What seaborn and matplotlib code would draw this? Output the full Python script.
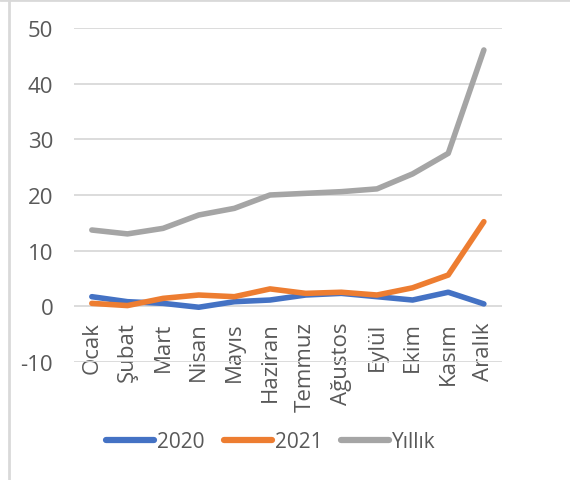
import matplotlib
matplotlib.use("Agg")
import matplotlib.pyplot as plt
import seaborn as sns
import pandas as pd
from matplotlib.lines import Line2D

months = ["Ocak", "Şubat", "Mart", "Nisan", "Mayıs", "Haziran",
          "Temmuz", "Ağustos", "Eylül", "Ekim", "Kasım", "Aralık"]
y2020 = [1.7, 0.8, 0.5, -0.2, 0.8, 1.1, 2.0, 2.3, 1.7, 1.1, 2.5, 0.4]
y2021 = [0.5, 0.1, 1.4, 2.0, 1.7, 3.1, 2.3, 2.5, 2.0, 3.3, 5.6, 15.2]
yillik = [13.7, 13.0, 14.0, 16.4, 17.6, 20.0, 20.3, 20.6, 21.1, 23.8, 27.5, 46.1]
series = ["2020", "2021", "Yıllık"]
colors = ["#4472C4", "#ED7D31", "#A5A5A5"]

df = pd.DataFrame({"Ay": months, "2020": y2020, "2021": y2021, "Yıllık": yillik})
long = df.melt(id_vars="Ay", var_name="Seri", value_name="Değer")

sns.set_style("white")
plt.rcParams['font.family'] = ['Open Sans', 'DejaVu Sans']
plt.rcParams['axes.unicode_minus'] = False

fig = plt.figure(figsize=(5.7, 4.81), dpi=100)
ax = fig.add_axes([74 / 570, 1 - 362.7 / 481, (501.7 - 74) / 570, (362.7 - 29.3) / 481])

sns.lineplot(data=long, x="Ay", y="Değer", hue="Seri", hue_order=series,
             palette=colors, linewidth=4, sort=False, legend=False, ax=ax,
             solid_capstyle="round")

ax.set_xlim(-0.5, 11.5)
ax.set_ylim(-10, 50)
ax.set_yticks(range(-10, 51, 10))
ax.grid(axis="y", color="#D9D9D9", linewidth=1.3)
ax.set_axisbelow(True)
for s in ["left", "right", "top"]:
    ax.spines[s].set_visible(False)
ax.spines["bottom"].set_position(("data", 0))
ax.spines["bottom"].set_visible(False)
ax.set_xlabel("")
ax.set_ylabel("")
ax.set_xticks(range(len(months)))
ax.set_xticklabels(months, rotation=90, ha="center", va="top")
ax.tick_params(axis="both", length=0, labelsize=16, labelcolor="#595959")
ax.tick_params(axis="x", pad=11)
ax.tick_params(axis="y", pad=15)

handles = [Line2D([0], [0], color=c, linewidth=4.5, solid_capstyle="round") for c in colors]
fig.legend(handles, series, loc="center", bbox_to_anchor=(271 / 570, 1 - 443 / 481),
           ncol=3, frameon=False, fontsize=15, labelcolor="#595959",
           handlelength=2.3, handletextpad=0.15, columnspacing=0.9)

# outer chart border (left and top only visible)
fig.add_artist(Line2D([9 / 570, 9 / 570], [0, 1], color="#D9D9D9", linewidth=2))
fig.add_artist(Line2D([0, 1], [1 - 1 / 481, 1 - 1 / 481], color="#D9D9D9", linewidth=2))

fig.savefig("out.png", dpi=100)
